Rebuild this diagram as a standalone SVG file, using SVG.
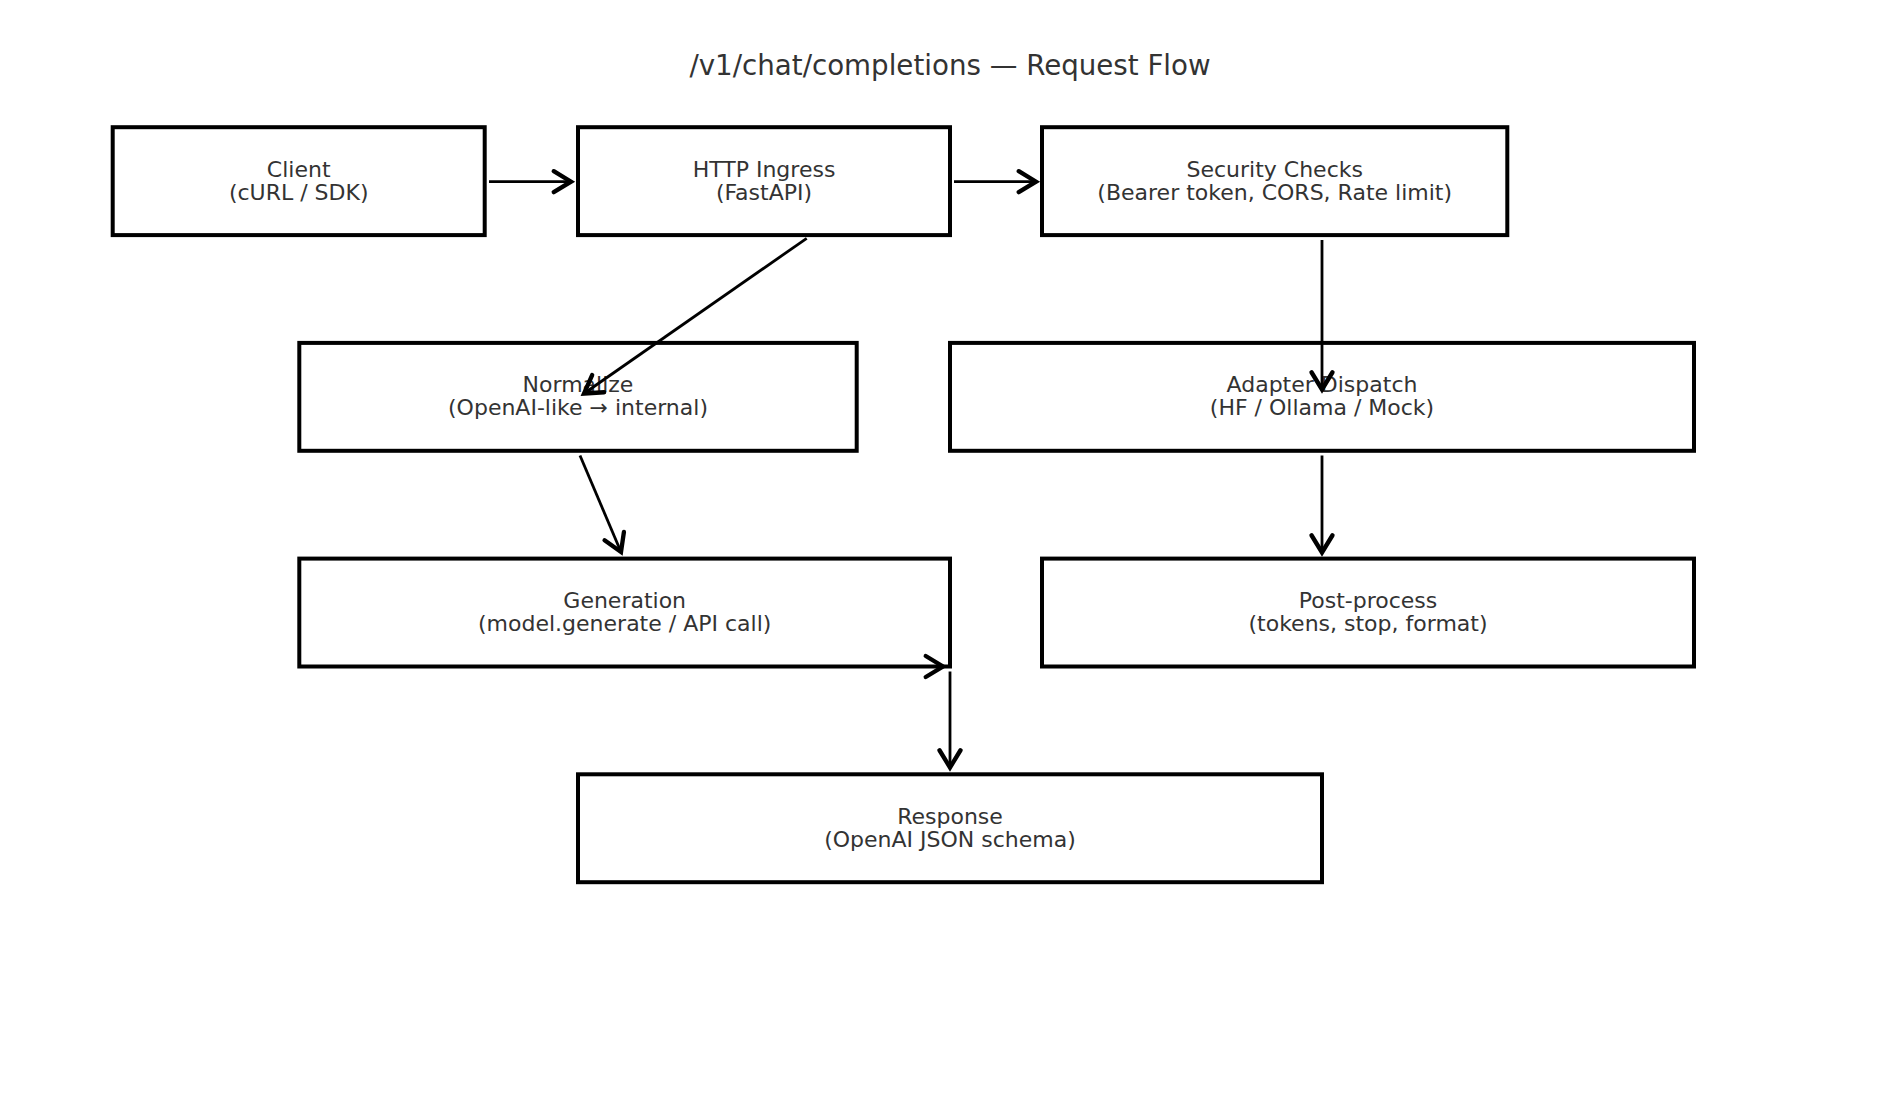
<svg xmlns="http://www.w3.org/2000/svg" width="1900" height="1118" viewBox="0 0 1900 1118">
<style>
.box{fill:#ffffff;stroke:#000000;stroke-width:4}
.lbl{font-family:"DejaVu Sans",sans-serif;font-size:22px;fill:#333333;text-anchor:middle}
.title{font-family:"DejaVu Sans",sans-serif;font-size:27.7px;fill:#333333;text-anchor:middle}
.edge{fill:none;stroke:#000000;stroke-width:2.8;marker-end:url(#arr)}
</style>
<defs>
<marker id="arr" markerUnits="userSpaceOnUse" markerWidth="30" markerHeight="30" viewBox="-16 -10 20 20" refX="0" refY="0" orient="auto">
<path d="M -11.5 -7 L 0 0 L -11.5 7" fill="none" stroke="#000000" stroke-width="2.9" stroke-linecap="round" stroke-linejoin="miter"/>
</marker>
</defs>
<rect x="0" y="0" width="1900" height="1118" fill="#ffffff"/>
<text class="title" x="950" y="74.5">/v1/chat/completions — Request Flow</text>
<g id="client"><rect class="box" x="112.7" y="127.2" width="372" height="107.9"/><text class="lbl" x="298.7" y="176.5">Client</text><text class="lbl" x="298.7" y="199.5">(cURL / SDK)</text></g>
<g id="http-ingress"><rect class="box" x="578" y="127.2" width="372" height="107.9"/><text class="lbl" x="764" y="176.5">HTTP Ingress</text><text class="lbl" x="764" y="199.5">(FastAPI)</text></g>
<g id="security-checks"><rect class="box" x="1042" y="127.2" width="465.3" height="107.9"/><text class="lbl" x="1274.7" y="176.5">Security Checks</text><text class="lbl" x="1274.7" y="199.5">(Bearer token, CORS, Rate limit)</text></g>
<g id="normalize"><rect class="box" x="299.3" y="342.9" width="557.4" height="107.9"/><text class="lbl" x="578" y="392.2">Normalize</text><text class="lbl" x="578" y="415.2">(OpenAI-like → internal)</text></g>
<g id="adapter-dispatch"><rect class="box" x="950" y="342.9" width="744" height="107.9"/><text class="lbl" x="1322" y="392.2">Adapter Dispatch</text><text class="lbl" x="1322" y="415.2">(HF / Ollama / Mock)</text></g>
<g id="generation"><rect class="box" x="299.3" y="558.6" width="650.7" height="107.9"/><text class="lbl" x="624.7" y="607.9">Generation</text><text class="lbl" x="624.7" y="630.9">(model.generate / API call)</text></g>
<g id="post-process"><rect class="box" x="1042" y="558.6" width="652" height="107.9"/><text class="lbl" x="1368" y="607.9">Post-process</text><text class="lbl" x="1368" y="630.9">(tokens, stop, format)</text></g>
<g id="response"><rect class="box" x="578" y="774.3" width="744" height="107.9"/><text class="lbl" x="950" y="823.6">Response</text><text class="lbl" x="950" y="846.6">(OpenAI JSON schema)</text></g>
<g id="connectors">
<path class="edge" d="M 489 181.7 L 571 181.7"/>
<path class="edge" d="M 954 181.7 L 1036 181.7"/>
<path class="edge" d="M 806.7 238.3 L 584 393.5"/>
<path class="edge" d="M 1322 240 L 1322 389.5"/>
<path class="edge" d="M 580 455.5 L 621 552"/>
<path class="edge" d="M 1322 455.5 L 1322 552.5"/>
<path class="edge" d="M 880 666.5 L 943 666.5"/>
<path class="edge" d="M 950 671.5 L 950 767.5"/>
</g>
</svg>
